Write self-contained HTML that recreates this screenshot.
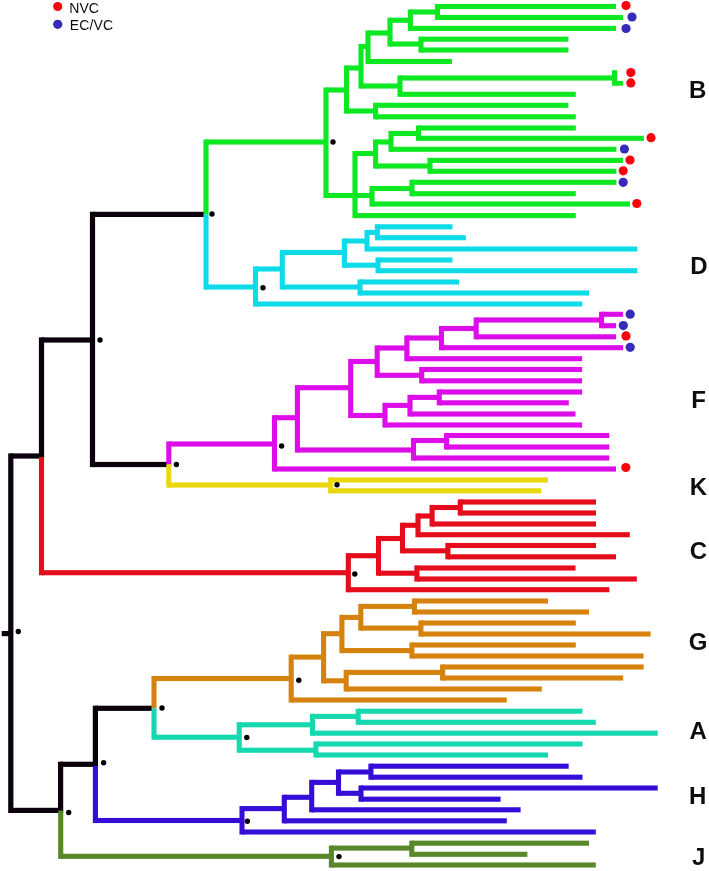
<!DOCTYPE html>
<html><head><meta charset="utf-8"><title>tree</title>
<style>
html,body{margin:0;padding:0;background:#fff;}
svg{display:block;font-family:"Liberation Sans",sans-serif;fill:#111;}
</style></head><body>
<svg width="709" height="871" viewBox="0 0 709 871">
<defs><filter id="soft" x="0" y="0" width="709" height="871" filterUnits="userSpaceOnUse"><feGaussianBlur stdDeviation="0.45"/></filter></defs>
<rect width="709" height="871" fill="#fff"/>
<g filter="url(#soft)">
<rect x="92.50" y="211.80" width="111.50" height="5.2" fill="#08060c"/>
<rect x="89.90" y="211.80" width="5.2" height="255.30" fill="#08060c"/>
<rect x="41.50" y="337.40" width="51.00" height="5.2" fill="#08060c"/>
<rect x="38.90" y="337.40" width="5.2" height="121.20" fill="#08060c"/>
<rect x="10.80" y="453.40" width="30.70" height="5.2" fill="#08060c"/>
<rect x="8.20" y="453.40" width="5.2" height="359.60" fill="#08060c"/>
<rect x="1.70" y="631.00" width="9.10" height="5.2" fill="#08060c"/>
<rect x="92.50" y="461.90" width="74.50" height="5.2" fill="#08060c"/>
<rect x="10.80" y="807.80" width="49.80" height="5.2" fill="#08060c"/>
<rect x="58.00" y="761.70" width="5.2" height="51.30" fill="#08060c"/>
<rect x="60.60" y="761.70" width="34.80" height="5.2" fill="#08060c"/>
<rect x="92.80" y="705.70" width="5.2" height="61.20" fill="#08060c"/>
<rect x="95.40" y="705.70" width="56.60" height="5.2" fill="#08060c"/>
<rect x="203.45" y="139.45" width="5.1" height="75.15" fill="#0ae822"/>
<rect x="206.00" y="139.45" width="120.00" height="5.1" fill="#0ae822"/>
<rect x="323.45" y="87.45" width="5.1" height="110.60" fill="#0ae822"/>
<rect x="326.00" y="87.45" width="20.50" height="5.1" fill="#0ae822"/>
<rect x="343.95" y="65.45" width="5.1" height="48.10" fill="#0ae822"/>
<rect x="346.50" y="65.45" width="14.50" height="5.1" fill="#0ae822"/>
<rect x="358.45" y="43.95" width="5.1" height="44.60" fill="#0ae822"/>
<rect x="361.00" y="43.95" width="7.00" height="5.1" fill="#0ae822"/>
<rect x="365.45" y="30.45" width="5.1" height="33.60" fill="#0ae822"/>
<rect x="368.00" y="30.45" width="22.00" height="5.1" fill="#0ae822"/>
<rect x="387.45" y="17.75" width="5.1" height="28.80" fill="#0ae822"/>
<rect x="390.00" y="17.75" width="20.40" height="5.1" fill="#0ae822"/>
<rect x="407.85" y="9.45" width="5.1" height="21.50" fill="#0ae822"/>
<rect x="410.40" y="9.45" width="27.10" height="5.1" fill="#0ae822"/>
<rect x="434.95" y="3.95" width="5.1" height="16.10" fill="#0ae822"/>
<rect x="437.50" y="3.95" width="178.50" height="5.1" fill="#0ae822"/>
<rect x="437.50" y="14.95" width="185.50" height="5.1" fill="#0ae822"/>
<rect x="410.40" y="25.85" width="205.60" height="5.1" fill="#0ae822"/>
<rect x="390.00" y="41.45" width="31.00" height="5.1" fill="#0ae822"/>
<rect x="418.45" y="36.65" width="5.1" height="15.90" fill="#0ae822"/>
<rect x="421.00" y="36.65" width="147.40" height="5.1" fill="#0ae822"/>
<rect x="421.00" y="47.45" width="147.40" height="5.1" fill="#0ae822"/>
<rect x="368.00" y="58.95" width="84.00" height="5.1" fill="#0ae822"/>
<rect x="361.00" y="83.45" width="39.00" height="5.1" fill="#0ae822"/>
<rect x="397.45" y="75.45" width="5.1" height="21.40" fill="#0ae822"/>
<rect x="400.00" y="75.45" width="214.60" height="5.1" fill="#0ae822"/>
<rect x="400.00" y="91.75" width="175.80" height="5.1" fill="#0ae822"/>
<rect x="612.00" y="70.20" width="5.2" height="15.50" fill="#0ae822"/>
<rect x="614.60" y="80.90" width="8.60" height="4.8" fill="#0ae822"/>
<rect x="346.50" y="108.45" width="29.10" height="5.1" fill="#0ae822"/>
<rect x="373.05" y="102.75" width="5.1" height="16.60" fill="#0ae822"/>
<rect x="375.60" y="102.75" width="192.80" height="5.1" fill="#0ae822"/>
<rect x="375.60" y="114.25" width="200.20" height="5.1" fill="#0ae822"/>
<rect x="326.00" y="192.95" width="46.00" height="5.1" fill="#0ae822"/>
<rect x="352.45" y="150.95" width="5.1" height="67.20" fill="#0ae822"/>
<rect x="355.00" y="213.05" width="220.80" height="5.1" fill="#0ae822"/>
<rect x="355.00" y="150.95" width="20.60" height="5.1" fill="#0ae822"/>
<rect x="373.05" y="139.45" width="5.1" height="29.10" fill="#0ae822"/>
<rect x="375.60" y="139.45" width="15.40" height="5.1" fill="#0ae822"/>
<rect x="388.45" y="130.95" width="5.1" height="20.90" fill="#0ae822"/>
<rect x="391.00" y="146.75" width="225.40" height="5.1" fill="#0ae822"/>
<rect x="391.00" y="130.95" width="27.50" height="5.1" fill="#0ae822"/>
<rect x="415.95" y="125.45" width="5.1" height="15.40" fill="#0ae822"/>
<rect x="418.50" y="125.45" width="157.30" height="5.1" fill="#0ae822"/>
<rect x="418.50" y="135.75" width="225.40" height="5.1" fill="#0ae822"/>
<rect x="375.60" y="163.45" width="54.40" height="5.1" fill="#0ae822"/>
<rect x="427.45" y="157.85" width="5.1" height="16.00" fill="#0ae822"/>
<rect x="430.00" y="157.85" width="193.00" height="5.1" fill="#0ae822"/>
<rect x="430.00" y="168.75" width="186.40" height="5.1" fill="#0ae822"/>
<rect x="369.45" y="185.95" width="5.1" height="20.60" fill="#0ae822"/>
<rect x="372.00" y="201.45" width="258.00" height="5.1" fill="#0ae822"/>
<rect x="372.00" y="185.95" width="40.00" height="5.1" fill="#0ae822"/>
<rect x="409.45" y="179.75" width="5.1" height="16.50" fill="#0ae822"/>
<rect x="412.00" y="179.75" width="204.40" height="5.1" fill="#0ae822"/>
<rect x="412.00" y="191.15" width="163.80" height="5.1" fill="#0ae822"/>
<rect x="203.45" y="214.60" width="5.1" height="74.95" fill="#0edce8"/>
<rect x="206.00" y="284.45" width="49.50" height="5.1" fill="#0edce8"/>
<rect x="252.95" y="266.45" width="5.1" height="40.10" fill="#0edce8"/>
<rect x="255.50" y="301.45" width="326.80" height="5.1" fill="#0edce8"/>
<rect x="255.50" y="266.45" width="26.80" height="5.1" fill="#0edce8"/>
<rect x="279.75" y="249.95" width="5.1" height="39.60" fill="#0edce8"/>
<rect x="282.30" y="249.95" width="62.10" height="5.1" fill="#0edce8"/>
<rect x="282.30" y="284.45" width="77.70" height="5.1" fill="#0edce8"/>
<rect x="357.45" y="279.45" width="5.1" height="16.10" fill="#0edce8"/>
<rect x="360.00" y="279.45" width="99.00" height="5.1" fill="#0edce8"/>
<rect x="360.00" y="290.45" width="229.00" height="5.1" fill="#0edce8"/>
<rect x="341.85" y="238.45" width="5.1" height="29.30" fill="#0edce8"/>
<rect x="344.40" y="238.45" width="22.60" height="5.1" fill="#0edce8"/>
<rect x="364.45" y="229.95" width="5.1" height="21.60" fill="#0edce8"/>
<rect x="367.00" y="246.45" width="270.30" height="5.1" fill="#0edce8"/>
<rect x="367.00" y="229.95" width="10.40" height="5.1" fill="#0edce8"/>
<rect x="374.85" y="224.25" width="5.1" height="16.00" fill="#0edce8"/>
<rect x="377.40" y="224.25" width="75.10" height="5.1" fill="#0edce8"/>
<rect x="377.40" y="235.15" width="88.40" height="5.1" fill="#0edce8"/>
<rect x="344.40" y="262.65" width="33.60" height="5.1" fill="#0edce8"/>
<rect x="375.45" y="257.45" width="5.1" height="15.80" fill="#0edce8"/>
<rect x="378.00" y="257.45" width="74.50" height="5.1" fill="#0edce8"/>
<rect x="378.00" y="268.15" width="259.30" height="5.1" fill="#0edce8"/>
<rect x="166.25" y="441.45" width="5.1" height="23.05" fill="#dc0ae8"/>
<rect x="168.80" y="441.45" width="105.70" height="5.1" fill="#dc0ae8"/>
<rect x="271.95" y="415.15" width="5.1" height="56.40" fill="#dc0ae8"/>
<rect x="274.50" y="466.45" width="341.50" height="5.1" fill="#dc0ae8"/>
<rect x="274.50" y="415.15" width="22.90" height="5.1" fill="#dc0ae8"/>
<rect x="294.85" y="385.15" width="5.1" height="67.40" fill="#dc0ae8"/>
<rect x="297.40" y="447.45" width="116.10" height="5.1" fill="#dc0ae8"/>
<rect x="410.95" y="437.95" width="5.1" height="22.60" fill="#dc0ae8"/>
<rect x="413.50" y="455.45" width="195.80" height="5.1" fill="#dc0ae8"/>
<rect x="413.50" y="437.95" width="33.10" height="5.1" fill="#dc0ae8"/>
<rect x="444.05" y="432.95" width="5.1" height="16.60" fill="#dc0ae8"/>
<rect x="446.60" y="432.95" width="162.70" height="5.1" fill="#dc0ae8"/>
<rect x="446.60" y="444.45" width="162.70" height="5.1" fill="#dc0ae8"/>
<rect x="297.40" y="385.15" width="53.30" height="5.1" fill="#dc0ae8"/>
<rect x="348.15" y="358.95" width="5.1" height="59.10" fill="#dc0ae8"/>
<rect x="350.70" y="358.95" width="26.50" height="5.1" fill="#dc0ae8"/>
<rect x="374.65" y="345.45" width="5.1" height="32.40" fill="#dc0ae8"/>
<rect x="377.20" y="345.45" width="29.70" height="5.1" fill="#dc0ae8"/>
<rect x="404.35" y="335.45" width="5.1" height="25.80" fill="#dc0ae8"/>
<rect x="406.90" y="356.15" width="175.20" height="5.1" fill="#dc0ae8"/>
<rect x="406.90" y="335.45" width="34.60" height="5.1" fill="#dc0ae8"/>
<rect x="438.95" y="325.95" width="5.1" height="24.30" fill="#dc0ae8"/>
<rect x="441.50" y="345.15" width="181.60" height="5.1" fill="#dc0ae8"/>
<rect x="441.50" y="325.95" width="34.70" height="5.1" fill="#dc0ae8"/>
<rect x="473.65" y="317.45" width="5.1" height="21.90" fill="#dc0ae8"/>
<rect x="476.20" y="317.45" width="125.40" height="5.1" fill="#dc0ae8"/>
<rect x="476.20" y="334.25" width="139.90" height="5.1" fill="#dc0ae8"/>
<rect x="599.05" y="311.75" width="5.1" height="16.50" fill="#dc0ae8"/>
<rect x="601.60" y="311.75" width="21.50" height="5.1" fill="#dc0ae8"/>
<rect x="601.60" y="323.15" width="14.50" height="5.1" fill="#dc0ae8"/>
<rect x="377.20" y="372.75" width="44.50" height="5.1" fill="#dc0ae8"/>
<rect x="419.15" y="366.95" width="5.1" height="16.40" fill="#dc0ae8"/>
<rect x="421.70" y="366.95" width="160.40" height="5.1" fill="#dc0ae8"/>
<rect x="421.70" y="378.25" width="160.40" height="5.1" fill="#dc0ae8"/>
<rect x="350.70" y="412.95" width="34.30" height="5.1" fill="#dc0ae8"/>
<rect x="382.45" y="402.85" width="5.1" height="24.70" fill="#dc0ae8"/>
<rect x="385.00" y="422.45" width="197.10" height="5.1" fill="#dc0ae8"/>
<rect x="385.00" y="402.85" width="25.00" height="5.1" fill="#dc0ae8"/>
<rect x="407.45" y="394.85" width="5.1" height="21.70" fill="#dc0ae8"/>
<rect x="410.00" y="411.45" width="165.50" height="5.1" fill="#dc0ae8"/>
<rect x="410.00" y="394.85" width="29.30" height="5.1" fill="#dc0ae8"/>
<rect x="436.75" y="389.45" width="5.1" height="15.90" fill="#dc0ae8"/>
<rect x="439.30" y="389.45" width="142.80" height="5.1" fill="#dc0ae8"/>
<rect x="439.30" y="400.25" width="129.50" height="5.1" fill="#dc0ae8"/>
<rect x="166.25" y="464.50" width="5.1" height="23.05" fill="#e9d80a"/>
<rect x="168.80" y="482.45" width="161.80" height="5.1" fill="#e9d80a"/>
<rect x="328.05" y="477.45" width="5.1" height="15.90" fill="#e9d80a"/>
<rect x="330.60" y="477.45" width="217.40" height="5.1" fill="#e9d80a"/>
<rect x="330.60" y="488.25" width="210.70" height="5.1" fill="#e9d80a"/>
<rect x="38.95" y="457.00" width="5.1" height="118.25" fill="#e50a1a"/>
<rect x="41.50" y="570.15" width="306.80" height="5.1" fill="#e50a1a"/>
<rect x="345.75" y="553.15" width="5.1" height="39.10" fill="#e50a1a"/>
<rect x="348.30" y="587.15" width="261.00" height="5.1" fill="#e50a1a"/>
<rect x="348.30" y="553.15" width="30.20" height="5.1" fill="#e50a1a"/>
<rect x="375.95" y="535.95" width="5.1" height="39.80" fill="#e50a1a"/>
<rect x="378.50" y="570.65" width="38.40" height="5.1" fill="#e50a1a"/>
<rect x="414.35" y="565.45" width="5.1" height="16.10" fill="#e50a1a"/>
<rect x="416.90" y="565.45" width="158.60" height="5.1" fill="#e50a1a"/>
<rect x="416.90" y="576.45" width="219.90" height="5.1" fill="#e50a1a"/>
<rect x="378.50" y="535.95" width="24.00" height="5.1" fill="#e50a1a"/>
<rect x="399.95" y="522.75" width="5.1" height="30.60" fill="#e50a1a"/>
<rect x="402.50" y="548.25" width="45.40" height="5.1" fill="#e50a1a"/>
<rect x="445.35" y="542.95" width="5.1" height="16.40" fill="#e50a1a"/>
<rect x="447.90" y="542.95" width="148.10" height="5.1" fill="#e50a1a"/>
<rect x="447.90" y="554.25" width="168.10" height="5.1" fill="#e50a1a"/>
<rect x="402.50" y="522.75" width="15.50" height="5.1" fill="#e50a1a"/>
<rect x="415.45" y="513.45" width="5.1" height="23.80" fill="#e50a1a"/>
<rect x="418.00" y="532.15" width="211.80" height="5.1" fill="#e50a1a"/>
<rect x="418.00" y="513.45" width="14.10" height="5.1" fill="#e50a1a"/>
<rect x="429.55" y="504.95" width="5.1" height="21.60" fill="#e50a1a"/>
<rect x="432.10" y="521.45" width="163.90" height="5.1" fill="#e50a1a"/>
<rect x="432.10" y="504.95" width="28.20" height="5.1" fill="#e50a1a"/>
<rect x="457.75" y="499.45" width="5.1" height="16.10" fill="#e50a1a"/>
<rect x="460.30" y="499.45" width="135.70" height="5.1" fill="#e50a1a"/>
<rect x="460.30" y="510.45" width="135.70" height="5.1" fill="#e50a1a"/>
<rect x="151.45" y="675.95" width="5.1" height="32.25" fill="#d6830e"/>
<rect x="154.00" y="675.95" width="137.20" height="5.1" fill="#d6830e"/>
<rect x="288.65" y="654.55" width="5.1" height="48.00" fill="#d6830e"/>
<rect x="291.20" y="697.45" width="215.60" height="5.1" fill="#d6830e"/>
<rect x="291.20" y="654.55" width="32.40" height="5.1" fill="#d6830e"/>
<rect x="321.05" y="631.15" width="5.1" height="52.20" fill="#d6830e"/>
<rect x="323.60" y="678.25" width="22.60" height="5.1" fill="#d6830e"/>
<rect x="343.65" y="669.85" width="5.1" height="21.70" fill="#d6830e"/>
<rect x="346.20" y="686.45" width="195.60" height="5.1" fill="#d6830e"/>
<rect x="346.20" y="669.85" width="96.40" height="5.1" fill="#d6830e"/>
<rect x="440.05" y="664.45" width="5.1" height="16.10" fill="#d6830e"/>
<rect x="442.60" y="664.45" width="201.00" height="5.1" fill="#d6830e"/>
<rect x="442.60" y="675.45" width="180.60" height="5.1" fill="#d6830e"/>
<rect x="323.60" y="631.15" width="18.30" height="5.1" fill="#d6830e"/>
<rect x="339.35" y="614.85" width="5.1" height="38.30" fill="#d6830e"/>
<rect x="341.90" y="648.05" width="70.00" height="5.1" fill="#d6830e"/>
<rect x="409.35" y="642.45" width="5.1" height="16.10" fill="#d6830e"/>
<rect x="411.90" y="642.45" width="163.90" height="5.1" fill="#d6830e"/>
<rect x="411.90" y="653.45" width="231.70" height="5.1" fill="#d6830e"/>
<rect x="341.90" y="614.85" width="18.90" height="5.1" fill="#d6830e"/>
<rect x="358.25" y="603.85" width="5.1" height="26.80" fill="#d6830e"/>
<rect x="360.80" y="603.85" width="53.60" height="5.1" fill="#d6830e"/>
<rect x="411.85" y="598.45" width="5.1" height="16.10" fill="#d6830e"/>
<rect x="414.40" y="598.45" width="133.60" height="5.1" fill="#d6830e"/>
<rect x="414.40" y="609.45" width="174.60" height="5.1" fill="#d6830e"/>
<rect x="360.80" y="625.55" width="60.10" height="5.1" fill="#d6830e"/>
<rect x="418.35" y="620.45" width="5.1" height="16.10" fill="#d6830e"/>
<rect x="420.90" y="620.45" width="154.90" height="5.1" fill="#d6830e"/>
<rect x="420.90" y="631.45" width="229.70" height="5.1" fill="#d6830e"/>
<rect x="151.45" y="708.20" width="5.1" height="31.55" fill="#16d8ae"/>
<rect x="154.00" y="734.65" width="85.20" height="5.1" fill="#16d8ae"/>
<rect x="236.65" y="722.25" width="5.1" height="30.50" fill="#16d8ae"/>
<rect x="239.20" y="722.25" width="73.30" height="5.1" fill="#16d8ae"/>
<rect x="309.95" y="713.85" width="5.1" height="21.90" fill="#16d8ae"/>
<rect x="312.50" y="730.65" width="345.20" height="5.1" fill="#16d8ae"/>
<rect x="312.50" y="713.85" width="45.70" height="5.1" fill="#16d8ae"/>
<rect x="355.65" y="708.65" width="5.1" height="16.20" fill="#16d8ae"/>
<rect x="358.20" y="708.65" width="224.30" height="5.1" fill="#16d8ae"/>
<rect x="358.20" y="719.75" width="237.60" height="5.1" fill="#16d8ae"/>
<rect x="239.20" y="747.65" width="76.70" height="5.1" fill="#16d8ae"/>
<rect x="313.35" y="741.45" width="5.1" height="16.10" fill="#16d8ae"/>
<rect x="315.90" y="741.45" width="266.60" height="5.1" fill="#16d8ae"/>
<rect x="315.90" y="752.45" width="232.10" height="5.1" fill="#16d8ae"/>
<rect x="92.85" y="766.00" width="5.1" height="57.05" fill="#360ed6"/>
<rect x="95.40" y="817.95" width="146.60" height="5.1" fill="#360ed6"/>
<rect x="239.45" y="806.05" width="5.1" height="28.50" fill="#360ed6"/>
<rect x="242.00" y="829.45" width="353.80" height="5.1" fill="#360ed6"/>
<rect x="242.00" y="806.05" width="42.30" height="5.1" fill="#360ed6"/>
<rect x="281.75" y="794.75" width="5.1" height="28.60" fill="#360ed6"/>
<rect x="284.30" y="818.25" width="222.50" height="5.1" fill="#360ed6"/>
<rect x="284.30" y="794.75" width="27.40" height="5.1" fill="#360ed6"/>
<rect x="309.15" y="779.85" width="5.1" height="32.50" fill="#360ed6"/>
<rect x="311.70" y="807.25" width="208.90" height="5.1" fill="#360ed6"/>
<rect x="311.70" y="779.85" width="26.80" height="5.1" fill="#360ed6"/>
<rect x="335.95" y="769.45" width="5.1" height="26.40" fill="#360ed6"/>
<rect x="338.50" y="769.45" width="32.40" height="5.1" fill="#360ed6"/>
<rect x="368.35" y="763.65" width="5.1" height="16.10" fill="#360ed6"/>
<rect x="370.90" y="763.65" width="197.80" height="5.1" fill="#360ed6"/>
<rect x="370.90" y="774.65" width="211.60" height="5.1" fill="#360ed6"/>
<rect x="338.50" y="790.75" width="22.50" height="5.1" fill="#360ed6"/>
<rect x="358.45" y="785.45" width="5.1" height="16.30" fill="#360ed6"/>
<rect x="361.00" y="785.45" width="296.70" height="5.1" fill="#360ed6"/>
<rect x="361.00" y="796.65" width="139.60" height="5.1" fill="#360ed6"/>
<rect x="58.15" y="810.50" width="5.1" height="48.35" fill="#58882a"/>
<rect x="60.70" y="853.75" width="270.70" height="5.1" fill="#58882a"/>
<rect x="328.85" y="845.55" width="5.1" height="22.00" fill="#58882a"/>
<rect x="331.40" y="862.45" width="264.40" height="5.1" fill="#58882a"/>
<rect x="331.40" y="845.55" width="80.40" height="5.1" fill="#58882a"/>
<rect x="409.25" y="840.65" width="5.1" height="16.20" fill="#58882a"/>
<rect x="411.80" y="840.65" width="177.20" height="5.1" fill="#58882a"/>
<rect x="411.80" y="851.75" width="115.60" height="5.1" fill="#58882a"/>
<circle cx="626" cy="5.5" r="4.6" fill="#fd060c"/>
<circle cx="632" cy="17" r="4.6" fill="#3629ba"/>
<circle cx="626" cy="28.5" r="4.6" fill="#3629ba"/>
<circle cx="630.8" cy="72.6" r="4.6" fill="#fd060c"/>
<circle cx="630.8" cy="82.9" r="4.6" fill="#fd060c"/>
<circle cx="651" cy="137.7" r="4.6" fill="#fd060c"/>
<circle cx="624.4" cy="149.0" r="4.6" fill="#3629ba"/>
<circle cx="630" cy="160" r="4.6" fill="#fd060c"/>
<circle cx="623.2" cy="170.8" r="4.6" fill="#fd060c"/>
<circle cx="623.2" cy="182.3" r="4.6" fill="#3629ba"/>
<circle cx="636.8" cy="203.5" r="4.6" fill="#fd060c"/>
<circle cx="630.2" cy="314.2" r="4.6" fill="#3629ba"/>
<circle cx="623.3" cy="325.6" r="4.6" fill="#3629ba"/>
<circle cx="626" cy="335.9" r="4.6" fill="#fd060c"/>
<circle cx="630.2" cy="347.3" r="4.6" fill="#3629ba"/>
<circle cx="625.8" cy="467.5" r="4.6" fill="#fd060c"/>
<circle cx="57.7" cy="6.5" r="4.6" fill="#fd060c"/>
<circle cx="57.7" cy="24.3" r="4.6" fill="#3629ba"/>
<circle cx="212" cy="214" r="2.7" fill="#000"/>
<circle cx="100" cy="340" r="2.7" fill="#000"/>
<circle cx="176.4" cy="464.5" r="2.7" fill="#000"/>
<circle cx="18.3" cy="631.5" r="2.7" fill="#000"/>
<circle cx="162" cy="708" r="2.7" fill="#000"/>
<circle cx="103.6" cy="762.7" r="2.7" fill="#000"/>
<circle cx="68.7" cy="812.5" r="2.7" fill="#000"/>
<circle cx="333" cy="142" r="2.7" fill="#000"/>
<circle cx="263" cy="287.8" r="2.7" fill="#000"/>
<circle cx="281.6" cy="446" r="2.7" fill="#000"/>
<circle cx="337" cy="484.8" r="2.7" fill="#000"/>
<circle cx="354.8" cy="574" r="2.7" fill="#000"/>
<circle cx="298.8" cy="680.3" r="2.7" fill="#000"/>
<circle cx="246.8" cy="737.5" r="2.7" fill="#000"/>
<circle cx="247.4" cy="821.3" r="2.7" fill="#000"/>
<circle cx="339" cy="856.6" r="2.7" fill="#000"/>
<text x="697.55" y="98.48" text-anchor="middle" font-size="24" font-weight="bold">B</text>
<text x="698.9" y="274.28" text-anchor="middle" font-size="24" font-weight="bold">D</text>
<text x="698.7" y="408.08" text-anchor="middle" font-size="24" font-weight="bold">F</text>
<text x="698.5" y="495.28" text-anchor="middle" font-size="24" font-weight="bold">K</text>
<text x="698.35" y="558.78" text-anchor="middle" font-size="24" font-weight="bold">C</text>
<text x="698.1" y="650.03" text-anchor="middle" font-size="24" font-weight="bold">G</text>
<text x="698.2" y="739.08" text-anchor="middle" font-size="24" font-weight="bold">A</text>
<text x="697.65" y="803.93" text-anchor="middle" font-size="24" font-weight="bold">H</text>
<text x="698.7" y="864.73" text-anchor="middle" font-size="24" font-weight="bold">J</text>
<text x="69.3" y="12.6" font-size="14">NVC</text>
<text x="69.8" y="30.3" font-size="14" letter-spacing="0.15">EC/VC</text>
</g>
</svg>
</body></html>
